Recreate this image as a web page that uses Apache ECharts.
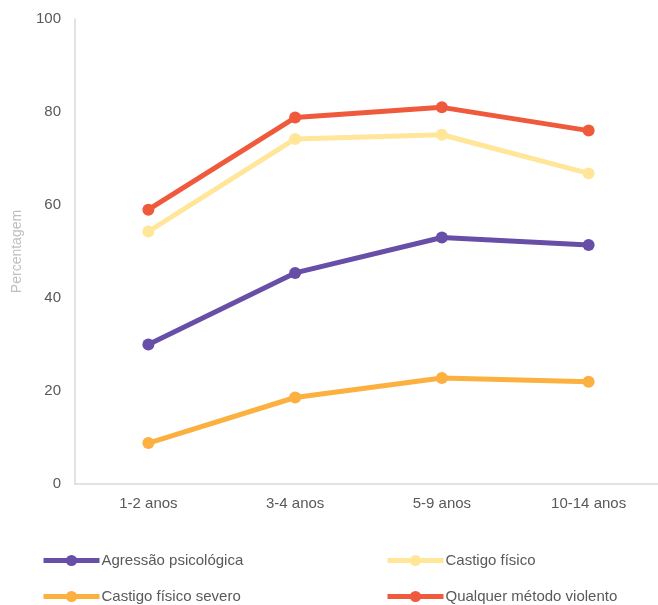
<!DOCTYPE html>
<html><head><meta charset="utf-8">
<script src="https://cdn.jsdelivr.net/npm/echarts@6/dist/echarts.min.js"></script>
<style>html,body{margin:0;padding:0;background:#fff}#c{width:658px;height:605px}</style>
</head><body><div id="c"></div>
<script>
const categories = ['1-2 anos', '3-4 anos', '5-9 anos', '10-14 anos'];
const agressao = [30, 45.4, 53, 51.4];
const castigo = [54.3, 74.2, 75.1, 66.8];
const severo = [8.8, 18.6, 22.8, 22];
const qualquer = [59, 78.8, 81, 76];
const yTicks = [0, 20, 40, 60, 80, 100];

const FONT = '"Liberation Sans Narrow", "Liberation Sans", sans-serif';
const names = ['Agressão psicológica', 'Castigo físico', 'Castigo físico severo', 'Qualquer método violento'];
const colors = ['#674EA7', '#FFE699', '#FBB040', '#F05A3C'];
const datas = [agressao, castigo, severo, qualquer];

function mkSeries(i) {
  return {
    name: names[i], type: 'line', data: datas[i],
    symbol: 'circle', symbolSize: 12,
    lineStyle: { width: 5, color: colors[i] },
    itemStyle: { color: colors[i] },
    z: [3, 2, 1, 4][i]
  };
}
const legendPos = [[41, 553], [385, 553], [41, 589], [385, 589]];
const legends = names.map((n, i) => ({
  data: [n], left: legendPos[i][0], top: legendPos[i][1],
  itemWidth: 56, itemHeight: 14, itemGap: 4,
  lineStyle: { width: 5 },
  textStyle: { fontFamily: FONT, fontSize: 15, color: '#595959', padding: [0, 0, 0, -3] },
  padding: 0
}));

const chart = echarts.init(document.getElementById('c'));
chart.setOption({
  animation: false,
  backgroundColor: '#fff',
  legend: legends,
  grid: { left: 75, top: 19, right: -4, bottom: 121, containLabel: false, outerBoundsMode: 'none' },
  xAxis: {
    type: 'category', data: categories, boundaryGap: true,
    axisLine: { show: true, lineStyle: { color: '#D9D9D9', width: 1.5 } },
    axisTick: { show: false },
    axisLabel: { fontFamily: FONT, fontSize: 15, color: '#595959', margin: 12 }
  },
  yAxis: {
    type: 'value', min: 0, max: 100, interval: 20,
    name: 'Percentagem', nameLocation: 'middle', nameGap: 51, nameRotate: 90,
    nameTextStyle: { fontFamily: FONT, fontSize: 14, color: '#BFBFBF' },
    axisLine: { show: true, lineStyle: { color: '#D9D9D9', width: 1.5 } },
    axisTick: { show: false },
    splitLine: { show: false },
    axisLabel: { fontFamily: FONT, fontSize: 15, color: '#595959', margin: 14,
      formatter: v => yTicks.includes(v) ? String(v) : '' }
  },
  series: [0, 1, 2, 3].map(mkSeries)
});
</script></body></html>
